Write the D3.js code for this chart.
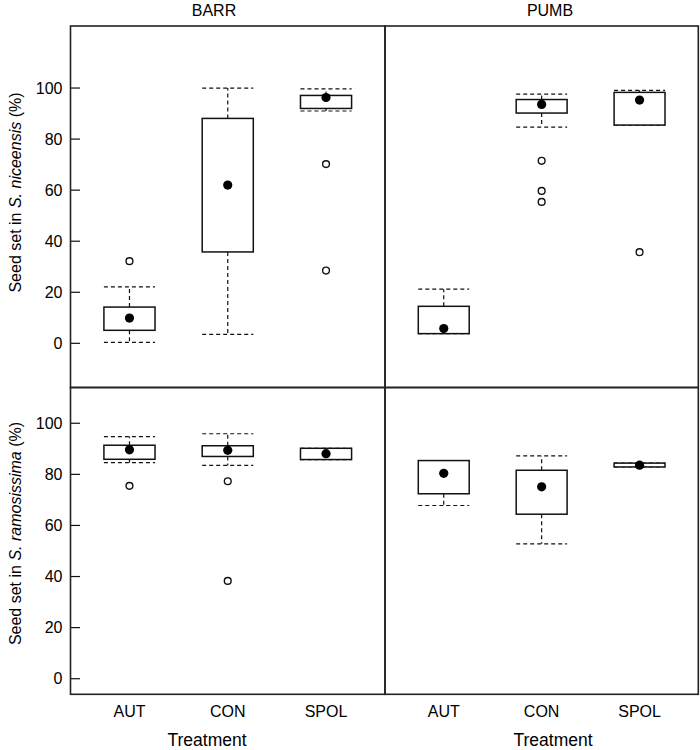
<!DOCTYPE html>
<html>
<head>
<meta charset="utf-8">
<script src="https://cdn.jsdelivr.net/npm/d3@7"></script>
<style>
  html, body { margin: 0; padding: 0; background: #fff; }
  svg { display: block; font-family: "Liberation Sans", Arial, Helvetica, sans-serif; }
</style>
</head>
<body>
<svg id="chart" width="700" height="750"></svg>
<script>
// ---- data ----
const categories = ["AUT", "CON", "SPOL"];
const sites = ["BARR", "PUMB"];
const speciesNames = ["S. niceensis", "S. ramosissima"];
const yTicks = [0, 20, 40, 60, 80, 100];

// box stats per treatment: [lower whisker, Q1, median, Q3, upper whisker]
const niceensisBARR = [[0.4, 5.1, 9.9, 14.2, 22.1], [3.5, 35.8, 62.0, 88.1, 100.0], [91.0, 92.0, 96.3, 97.1, 99.7]];
const niceensisBARROut = [[32.2], [], [70.2, 28.5]];
const niceensisPUMB = [[3.8, 3.8, 5.8, 14.5, 21.2], [84.7, 90.2, 93.6, 95.5, 97.6], [85.5, 85.5, 95.3, 98.3, 99.1]];
const niceensisPUMBOut = [[], [71.5, 59.7, 55.4], [35.7]];
const ramosissimaBARR = [[84.6, 85.9, 89.6, 91.4, 94.8], [83.5, 87.0, 89.4, 91.2, 95.9], [85.8, 85.8, 88.1, 90.2, 90.2]];
const ramosissimaBARROut = [[75.5], [77.3, 38.3], []];
const ramosissimaPUMB = [[67.8, 72.4, 80.4, 85.4, 85.4], [52.8, 64.4, 75.1, 81.6, 87.2], [82.9, 82.9, 83.6, 84.4, 84.4]];
const ramosissimaPUMBOut = [[], [], []];

// y-axis limits per row
const yLimitsTop = [-17.3, 124.3];
const yLimitsBottom = [-6.1, 114.0];

// ---- layout ----
const svg = d3.select("#chart");
const colX = [70.5, 385, 698.3];
const rowY = [26, 387.5, 694.3];
const font = 16;

const panels = [
  { r: 0, c: 0, stats: niceensisBARR, out: niceensisBARROut, lim: yLimitsTop },
  { r: 0, c: 1, stats: niceensisPUMB, out: niceensisPUMBOut, lim: yLimitsTop },
  { r: 1, c: 0, stats: ramosissimaBARR, out: ramosissimaBARROut, lim: yLimitsBottom },
  { r: 1, c: 1, stats: ramosissimaPUMB, out: ramosissimaPUMBOut, lim: yLimitsBottom }
];

const ink = "#111";

panels.forEach(p => {
  const x = d3.scalePoint().domain(categories).range([colX[p.c], colX[p.c + 1]]).padding(0.6);
  const y = d3.scaleLinear().domain(p.lim).range([rowY[p.r + 1], rowY[p.r]]);
  const hw = x.step() * 0.26;
  const g = svg.append("g");

  const data = categories.map((cat, i) => ({ cat, s: p.stats[i], o: p.out[i] }));

  const box = g.selectAll("g.box").data(data).join("g").attr("class", "box");

  // whisker stems
  box.append("line")
    .attr("x1", d => x(d.cat)).attr("x2", d => x(d.cat))
    .attr("y1", d => y(d.s[3])).attr("y2", d => y(d.s[4]))
    .attr("stroke", ink).attr("stroke-width", 1.2).attr("stroke-dasharray", "4,3");
  box.append("line")
    .attr("x1", d => x(d.cat)).attr("x2", d => x(d.cat))
    .attr("y1", d => y(d.s[1])).attr("y2", d => y(d.s[0]))
    .attr("stroke", ink).attr("stroke-width", 1.2).attr("stroke-dasharray", "4,3");
  // caps
  [0, 4].forEach(k => {
    box.append("line")
      .attr("x1", d => x(d.cat) - hw).attr("x2", d => x(d.cat) + hw)
      .attr("y1", d => y(d.s[k])).attr("y2", d => y(d.s[k]))
      .attr("stroke", ink).attr("stroke-width", 1.2).attr("stroke-dasharray", "4,3");
  });
  // box
  box.append("rect")
    .attr("x", d => x(d.cat) - hw).attr("width", 2 * hw)
    .attr("y", d => y(d.s[3])).attr("height", d => y(d.s[1]) - y(d.s[3]))
    .attr("fill", "#fff").attr("stroke", ink).attr("stroke-width", 1.5);
  // median dot
  box.append("circle")
    .attr("cx", d => x(d.cat)).attr("cy", d => y(d.s[2])).attr("r", 4.6)
    .attr("fill", "#000");
  // outliers
  box.selectAll("circle.out").data(d => d.o.map(v => ({ cat: d.cat, v }))).join("circle")
    .attr("class", "out")
    .attr("cx", d => x(d.cat)).attr("cy", d => y(d.v)).attr("r", 3.4)
    .attr("fill", "#fff").attr("stroke", ink).attr("stroke-width", 1.4);

  // y-axis (left column only), ticks inward
  if (p.c === 0) {
    const ax = g.append("g");
    ax.selectAll("line.tick").data(yTicks).join("line")
      .attr("x1", colX[0]).attr("x2", colX[0] + 9.5)
      .attr("y1", d => y(d)).attr("y2", d => y(d))
      .attr("stroke", ink).attr("stroke-width", 1.2);
    ax.selectAll("text").data(yTicks).join("text")
      .attr("x", 62.5).attr("y", d => y(d))
      .attr("text-anchor", "end").attr("dominant-baseline", "central")
      .attr("font-size", font).attr("fill", "#000")
      .text(d => d);
  }
  // x labels (bottom row)
  if (p.r === 1) {
    g.selectAll("text.cat").data(categories).join("text")
      .attr("class", "cat")
      .attr("x", d => x(d)).attr("y", 716.5)
      .attr("text-anchor", "middle").attr("font-size", font).attr("fill", "#000")
      .text(d => d);
  }

  // frame
  g.append("rect")
    .attr("x", colX[p.c]).attr("y", rowY[p.r])
    .attr("width", colX[p.c + 1] - colX[p.c]).attr("height", rowY[p.r + 1] - rowY[p.r])
    .attr("fill", "none").attr("stroke", "#222").attr("stroke-width", 1.6);
});

// strip labels (sites)
const stripX = [214, 550];
svg.selectAll("text.site").data(sites).join("text")
  .attr("class", "site")
  .attr("x", (d, i) => stripX[i]).attr("y", 15.5)
  .attr("text-anchor", "middle").attr("font-size", font).attr("fill", "#000")
  .text(d => d);

// "Treatment" labels
const treatX = [207, 553];
svg.selectAll("text.treat").data(sites).join("text")
  .attr("class", "treat")
  .attr("x", (d, i) => treatX[i]).attr("y", 746)
  .attr("text-anchor", "middle").attr("font-size", 17.5).attr("fill", "#000")
  .text("Treatment");

// y axis titles
const titleY = [192.5, 533.5];
speciesNames.forEach((sp, i) => {
  const t = svg.append("text")
    .attr("transform", `translate(21,${titleY[i]}) rotate(-90)`)
    .attr("text-anchor", "middle").attr("font-size", font).attr("fill", "#000");
  t.append("tspan").text("Seed set in ");
  t.append("tspan").attr("font-style", "italic").text(sp);
  t.append("tspan").text(" (%)");
});
</script>
</body>
</html>
